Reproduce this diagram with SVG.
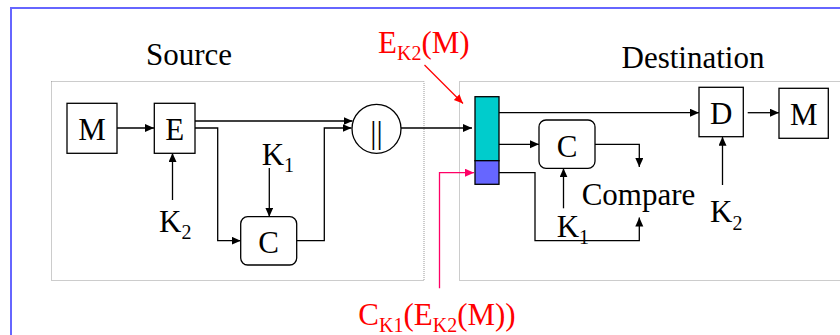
<svg xmlns="http://www.w3.org/2000/svg" width="840" height="335" viewBox="0 0 840 335">
<defs>
<marker id="ah" markerUnits="userSpaceOnUse" markerWidth="10" markerHeight="10" refX="9" refY="4" orient="auto"><path d="M0,0 L9,4 L0,8 z" fill="#000"/></marker>
<marker id="ahr" markerUnits="userSpaceOnUse" markerWidth="10" markerHeight="10" refX="9" refY="4" orient="auto"><path d="M0,0 L9,4 L0,8 z" fill="#ff0000"/></marker>
<marker id="ahp" markerUnits="userSpaceOnUse" markerWidth="10" markerHeight="10" refX="9" refY="4" orient="auto"><path d="M0,0 L9,4 L0,8 z" fill="#ff0066"/></marker>
<style>
text{font-family:"Liberation Serif","Times New Roman",serif;font-size:31px;fill:#000}
.sub{font-size:20px}
.red{fill:#ff0000}
.box{fill:#fff;stroke:#000;stroke-width:1.3}
.dot{fill:none;stroke:#999;stroke-width:1;stroke-dasharray:1,1}
.ln{fill:none;stroke:#000;stroke-width:1.3}
.c{text-anchor:middle}
</style>
</defs>
<rect x="11" y="8" width="840" height="340" fill="none" stroke="#6666ff" stroke-width="2"/>
<rect class="dot" x="51.5" y="81.5" width="372.5" height="199"/>
<rect class="dot" x="459.5" y="81.5" width="400" height="199"/>
<text x="189" y="65" class="c">Source</text>
<text x="693" y="68" class="c">Destination</text>
<g id="connectors">
<line class="ln" x1="117" y1="128" x2="154" y2="128" marker-end="url(#ah)"/>
<line class="ln" x1="195" y1="121" x2="352.5" y2="121" marker-end="url(#ah)"/>
<polyline class="ln" points="195,128 217.7,128 217.7,240.7 240.7,240.7" marker-end="url(#ah)"/>
<line class="ln" x1="172.5" y1="200" x2="172.5" y2="153" marker-end="url(#ah)"/>
<line class="ln" x1="269.3" y1="168" x2="269.3" y2="216.7" marker-end="url(#ah)"/>
<polyline class="ln" points="296.7,240.7 324.3,240.7 324.3,128 351.5,128" marker-end="url(#ah)"/>
<line class="ln" x1="401" y1="128" x2="472" y2="128" marker-end="url(#ah)"/>
<line class="ln" x1="499" y1="112.7" x2="699" y2="112.7" marker-end="url(#ah)"/>
<line class="ln" x1="747.7" y1="112.7" x2="779" y2="112.7" marker-end="url(#ah)"/>
<line class="ln" x1="499" y1="144.3" x2="539" y2="144.3" marker-end="url(#ah)"/>
<polyline class="ln" points="595,144.3 639.3,144.3 639.3,167" marker-end="url(#ah)"/>
<line class="ln" x1="563.5" y1="208.3" x2="563.5" y2="168.3" marker-end="url(#ah)"/>
<polyline class="ln" points="499,172.7 535,172.7 535,240.7 639.3,240.7 639.3,217.5" marker-end="url(#ah)"/>
<line class="ln" x1="722.5" y1="185" x2="722.5" y2="136.7" marker-end="url(#ah)"/>
<line x1="424.5" y1="65" x2="463" y2="103.5" stroke="#ff0000" stroke-width="1.3" marker-end="url(#ahr)"/>
<polyline points="439.5,288.3 439.5,172.7 474,172.7" fill="none" stroke="#ff0066" stroke-width="1.3" marker-end="url(#ahp)"/>
</g>
<g id="src-M"><rect class="box" x="67" y="103.3" width="50" height="50"/><text x="92" y="140" class="c">M</text></g>
<g id="src-E"><rect class="box" x="154.3" y="103.3" width="40.7" height="50"/><text x="174.7" y="140" class="c">E</text></g>
<g id="src-K2"><text x="159" y="232">K<tspan class="sub" dy="7">2</tspan></text></g>
<g id="src-K1"><text x="261.7" y="165">K<tspan class="sub" dy="7">1</tspan></text></g>
<g id="src-C"><rect class="box" x="240.7" y="216.7" width="56" height="48.3" rx="7"/><text x="268.7" y="253.3" class="c">C</text></g>
<g id="concat"><circle cx="376.5" cy="128.8" r="24.5" fill="#fff" stroke="#000" stroke-width="1.3"/><text x="376.5" y="143" class="c">||</text></g>
<g id="packet"><rect x="475" y="96.7" width="24" height="64" fill="#00cccc" stroke="#000" stroke-width="1.3"/><rect x="475" y="160.7" width="24" height="23.6" fill="#6666ff" stroke="#000" stroke-width="1.3"/></g>
<g id="dst-C"><rect class="box" x="539" y="120" width="56" height="48.3" rx="7"/><text x="567" y="156.7" class="c">C</text></g>
<g id="dst-K1"><text x="556.7" y="236.7">K<tspan class="sub" dy="7">1</tspan></text></g>
<g id="compare"><text x="581.7" y="205">Compare</text></g>
<g id="dst-D"><rect class="box" x="699" y="87.3" width="44.3" height="49.4"/><text x="721.2" y="124" class="c">D</text></g>
<g id="dst-K2"><text x="710" y="221.7">K<tspan class="sub" dy="8">2</tspan></text></g>
<g id="dst-M"><rect class="box" x="779" y="88.3" width="49.3" height="50"/><text x="803.7" y="125" class="c">M</text></g>
<g id="lbl-E"><text x="378" y="53.3" class="red">E<tspan class="sub" dy="7">K2</tspan><tspan dy="-7">(M)</tspan></text></g>
<g id="lbl-C"><text x="358.3" y="325" class="red">C<tspan class="sub" dy="7">K1</tspan><tspan dy="-7">(E</tspan><tspan class="sub" dy="7">K2</tspan><tspan dy="-7">(M))</tspan></text></g>
</svg>
